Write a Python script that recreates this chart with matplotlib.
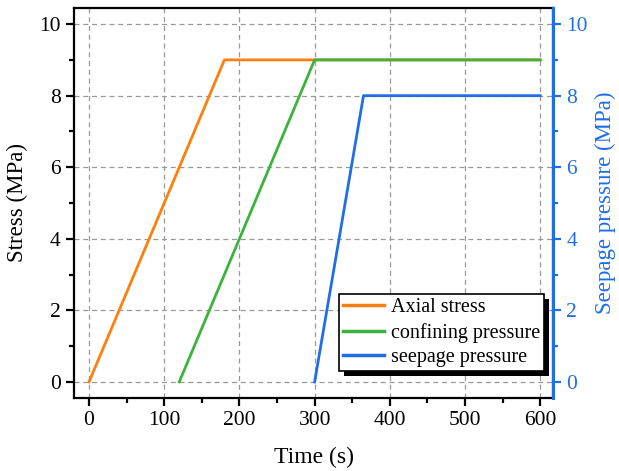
import matplotlib
matplotlib.use('Agg')
import matplotlib.pyplot as plt
from matplotlib.patches import Rectangle

plt.rcParams['font.family'] = ['Liberation Serif']
plt.rcParams['font.size'] = 15

# data
t_axial = [0, 180, 300, 600]
s_axial = [0, 9, 9, 9]
t_conf = [120, 300, 600]
s_conf = [0, 9, 9]
t_seep = [300, 365, 600]
s_seep = [0, 8, 8]

c_axial = '#ff7f0e'
c_conf = '#3cb33c'
c_seep = '#1f6ee8'

fig = plt.figure(figsize=(6.19, 4.71), dpi=100)
ax = fig.add_axes([74/619, 73/471, 479/619, 390/471])

ax.plot(t_axial, s_axial, color=c_axial, lw=2, label='Axial stress', zorder=3)
ax.plot(t_conf, s_conf, color=c_conf, lw=2, label='confining pressure', zorder=3)
ax2 = ax.twinx()
ln, = ax2.plot(t_seep, s_seep, color=c_seep, lw=2, label='seepage pressure', zorder=3)

ax.set_xlim(-20, 617)
ax.set_ylim(-0.45, 10.45)
ax2.set_ylim(-0.45, 10.45)
ax.set_xticks(range(0, 601, 100))
ax.set_xticks(range(50, 601, 100), minor=True)
ax.set_yticks(range(0, 11, 2))
ax.set_yticks(range(1, 11, 2), minor=True)
ax2.set_yticks(range(0, 11, 2))
ax2.set_yticks(range(1, 11, 2), minor=True)

ax.grid(True, which='major', ls=(0, (4, 3)), color='#999999', lw=0.9)

for s in ax.spines.values():
    s.set_linewidth(1.6)
ax2.spines['right'].set_color(c_seep)
ax2.spines['right'].set_linewidth(2.2)
for s in ['left', 'top', 'bottom']:
    ax2.spines[s].set_visible(False)

ax.tick_params(which='major', direction='out', length=6, width=1.6, labelsize=15.5)
ax.tick_params(which='minor', direction='out', length=3.5, width=1.6)
ax2.tick_params(which='major', direction='out', length=6, width=1.6, colors=c_seep, labelsize=15.5)
ax2.tick_params(which='minor', direction='out', length=3.5, width=1.6, colors=c_seep)

ax.set_xlabel('Time (s)', fontsize=17, labelpad=12)
ax.set_ylabel('Stress (MPa)', fontsize=16.5, labelpad=8)
ax2.set_ylabel('Seepage pressure (MPa)', fontsize=16.5, color=c_seep, labelpad=5)

h1, l1 = ax.get_legend_handles_labels()
leg = ax2.legend(h1 + [ln], l1 + ['seepage pressure'], loc='lower right',
                 bbox_to_anchor=(1.0, 0.045), fancybox=False,
                 edgecolor='black', framealpha=1, fontsize=14.5, handlelength=2.0,
                 borderpad=0.2, labelspacing=0.28, handletextpad=0.35, borderaxespad=0.45)
leg.get_frame().set_linewidth(1.2)
for h in leg.get_lines():
    h.set_linewidth(2.5)

# hard shadow behind legend box
fig.canvas.draw()
bb = leg.get_window_extent()
shadow = Rectangle((bb.x0 + 5, bb.y0 - 5), bb.width, bb.height, transform=None,
                   facecolor='black', edgecolor='none', zorder=4)
ax2.add_artist(shadow)
leg.set_zorder(5)

fig.savefig('out.png', dpi=100)
